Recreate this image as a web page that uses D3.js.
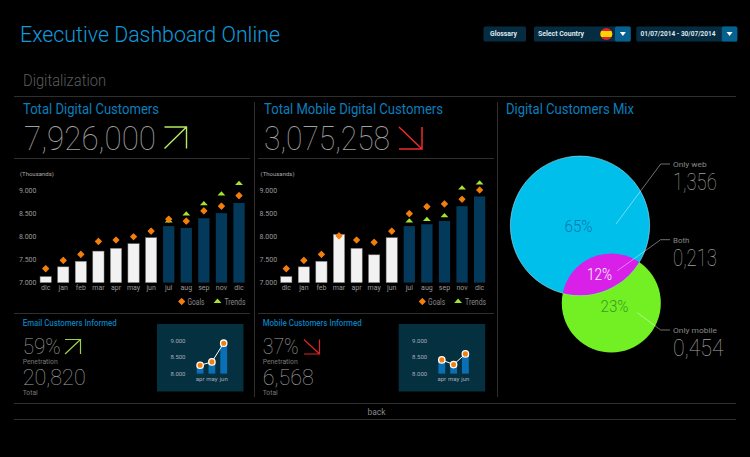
<!DOCTYPE html>
<html>
  <head>
    <meta charset="utf-8" />
    <script src="https://d3js.org/d3.v7.min.js"></script>
    <style>
html, body {
  margin: 0;
  background: #000;
}
svg {
  display: block;
}
svg text {
  font-family: Roboto, "Open Sans", sans-serif;
}
    </style>
  </head>
  <body>
<div id="content"></div>
    <script>
"use strict";

const MONTHS = ["dic", "jan", "feb", "mar", "apr", "may", "jun", "jul", "aug", "sep", "nov", "dic"];
const TICKS = [7000, 7500, 8000, 8500, 9000];

const DIGITAL_BARS = [7130, 7340, 7460, 7680, 7740, 7840, 7970, 8220, 8180, 8390, 8500, 8720];
const DIGITAL_GOALS = [7300, 7480, 7610, 7890, 7920, 7990, 8110, 8370, 8330, 8550, 8650, 8880];
const DIGITAL_TRENDS = [null, null, null, null, null, null, null, 8330, 8480, 8700, 8910, 9140];

const MOBILE_BARS = [7130, 7340, 7460, 8040, 7740, 7600, 7970, 8220, 8260, 8330, 8650, 8860];
const MOBILE_GOALS = [7300, 7480, 7610, 8010, 7920, 7870, 8110, 8490, 8640, 8700, 8800, 9000];
const MOBILE_TRENDS = [null, null, null, null, null, null, null, 8330, 8360, 8440, 9040, 9150];

const MINI_MONTHS = ["apr", "may", "jun"];
const MINI_TICKS = [8000, 8500, 9000];
const EMAIL_MINI = [8250, 8350, 8910];
const MOBILE_MINI = [8410, 8270, 8590];

const VENN_SIZES = [77, 39];
const VENN_PERCENTS = ["65%", "12%", "23%"];
const VENN_NAMES = ["Only web", "Both", "Only mobile"];
const VENN_VALUES = ["1,356", "0,213", "0,454"];

const BLUE = "#0a7fbd";
const GOAL = "#f57f0c";
const TREND = "#a6e22e";
const THIN = "#a0a0a0";

const dotFormat = d3.formatLocale({ decimal: ",", thousands: ".", grouping: [3], currency: ["", ""] }).format(",");

const svg = d3.select("#content").append("svg").attr("width", 750).attr("height", 457);
svg.append("rect").attr("width", 750).attr("height", 457).attr("fill", "#000");

// fit: the width the text takes in the reference, squeezes the glyphs to it
function label(x, y, str, size, color, weight, fit) {
	const t = svg.append("text")
		.attr("x", x).attr("y", y)
		.attr("font-size", size)
		.attr("fill", color)
		.attr("font-weight", weight || 400)
		.text(str);
	if (fit) {
		t.attr("textLength", fit).attr("lengthAdjust", "spacingAndGlyphs");
	}
	return t;
}

function rule(x1, y1, x2, y2) {
	svg.append("line").attr("x1", x1).attr("y1", y1).attr("x2", x2).attr("y2", y2)
		.attr("stroke", "#2e2e2e").attr("stroke-width", 1);
}

// arrow with the square corner at (cx, cy), dx/dy point back along the two arms
function arrow(cx, cy, dx, dy, color, w) {
	const p = d3.path();
	p.moveTo(cx + dx, cy);
	p.lineTo(cx, cy);
	p.lineTo(cx, cy + dy);
	p.moveTo(cx, cy);
	p.lineTo(cx + dx, cy + dy);
	svg.append("path").attr("d", p.toString()).attr("fill", "none")
		.attr("stroke", color).attr("stroke-width", w);
}

function button(x, w, str, textX, fit, arrowW) {
	svg.append("rect").attr("x", x).attr("y", 26.5).attr("width", w).attr("height", 15).attr("rx", 1.5).attr("fill", "#062c42");
	if (arrowW) {
		svg.append("rect").attr("x", x + w - arrowW).attr("y", 26.5).attr("width", arrowW).attr("height", 15).attr("rx", 1.5).attr("fill", "#05618f");
		const cx = x + w - arrowW / 2;
		svg.append("path").attr("d", d3.line()([[cx - 3, 32], [cx + 3, 32], [cx, 36]]) + "Z").attr("fill", "#fff");
	}
	label(textX, 36.3, str, 7, "#dfe6ea", 700, fit);
}

// the big bar chart, shift moves it into its panel
function barChart(shift, bars, goals, trends) {
	const g = svg.append("g").attr("transform", `translate(${shift},0)`);
	const x = d3.scaleBand().domain(d3.range(MONTHS.length)).range([36.9, 247.8]).paddingInner(0.36).paddingOuter(0.18);
	const y = d3.scaleLinear().domain([7000, 9000]).range([282.6, 190]);
	const cx = i => x(i) + x.bandwidth() / 2;

	g.append("text").attr("x", 20).attr("y", 175.5).attr("font-size", 6).attr("fill", "#aaa").text("(Thousands)");

	const yAxis = g.append("g").attr("transform", "translate(36.5,0)")
		.call(d3.axisLeft(y).tickValues(TICKS).tickSize(0).tickPadding(0).tickFormat(dotFormat));
	yAxis.select(".domain").remove();
	yAxis.selectAll("text").attr("font-size", 7).attr("fill", "#999");

	const xAxis = g.append("g").attr("transform", "translate(0,284)")
		.call(d3.axisBottom(x).tickSize(0).tickPadding(1.5).tickFormat(i => MONTHS[i]));
	xAxis.select(".domain").remove();
	xAxis.selectAll("text").attr("font-size", 7).attr("fill", "#999");

	g.selectAll(".bar").data(bars).enter().append("rect")
		.attr("class", "bar")
		.attr("x", (d, i) => x(i))
		.attr("y", d => y(d))
		.attr("width", x.bandwidth())
		.attr("height", d => y(7000) - y(d))
		.attr("fill", (d, i) => i < 7 ? "#f2f2f2" : "#033a5c")
		.attr("stroke", (d, i) => i < 7 ? "#777" : "none")
		.attr("stroke-width", 0.5);

	const tri = d3.symbol().type(d3.symbolTriangle).size(22);
	const trendPts = trends.map((v, i) => ({ v: v, i: i })).filter(d => d.v !== null);
	g.selectAll(".trend").data(trendPts).enter().append("path")
		.attr("class", "trend")
		.attr("d", tri)
		.attr("transform", d => `translate(${cx(d.i)},${y(d.v)}) scale(1.1,0.7)`)
		.attr("fill", TREND);

	const diamond = d3.symbol().type(d3.symbolSquare).size(18);
	g.selectAll(".goal").data(goals).enter().append("path")
		.attr("class", "goal")
		.attr("d", diamond)
		.attr("transform", (d, i) => `translate(${cx(i)},${y(d)}) rotate(45)`)
		.attr("fill", GOAL).attr("stroke", GOAL).attr("stroke-width", 1).attr("stroke-linejoin", "round");

	g.append("path").attr("d", diamond).attr("transform", "translate(181.7,301.5) rotate(45)")
		.attr("fill", GOAL).attr("stroke", GOAL).attr("stroke-width", 1).attr("stroke-linejoin", "round");
	g.append("text").attr("x", 187.5).attr("y", 304.5).attr("font-size", 8.5).attr("fill", "#888")
		.attr("textLength", 17).attr("lengthAdjust", "spacingAndGlyphs").text("Goals");
	g.append("path").attr("d", tri).attr("transform", "translate(217.5,301.5) scale(1.1,0.7)").attr("fill", TREND);
	g.append("text").attr("x", 224.5).attr("y", 304.5).attr("font-size", 8.5).attr("fill", "#888")
		.attr("textLength", 21).attr("lengthAdjust", "spacingAndGlyphs").text("Trends");
}

function miniChart(left, values) {
	const g = svg.append("g").attr("transform", `translate(${left},0)`);
	g.append("rect").attr("x", 0).attr("y", 324).attr("width", 86.5).attr("height", 67.5).attr("fill", "#04303f");

	const x = d3.scaleBand().domain(MINI_MONTHS).range([37.2, 72.6]).paddingInner(0.42).paddingOuter(0.21);
	const y = d3.scaleLinear().domain([8000, 9000]).range([373.6, 340.2]);

	const yAxis = g.append("g").attr("transform", "translate(28.5,0)")
		.call(d3.axisLeft(y).tickValues(MINI_TICKS).tickSize(0).tickPadding(0).tickFormat(dotFormat));
	yAxis.select(".domain").remove();
	yAxis.selectAll("text").attr("font-size", 6).attr("fill", "#aab");

	const xAxis = g.append("g").attr("transform", "translate(0,375.5)")
		.call(d3.axisBottom(x).tickSize(0).tickPadding(1.5));
	xAxis.select(".domain").remove();
	xAxis.selectAll("text").attr("font-size", 6).attr("fill", "#aab");

	const px = (d, i) => x(MINI_MONTHS[i]) + x.bandwidth() / 2;

	g.selectAll(".mbar").data(values).enter().append("rect")
		.attr("class", "mbar")
		.attr("x", (d, i) => x(MINI_MONTHS[i]))
		.attr("y", d => y(d))
		.attr("width", x.bandwidth())
		.attr("height", d => y(8000) - y(d))
		.attr("fill", "#0a6fb5");

	g.append("path")
		.attr("d", d3.line().x(px).y(d => y(d))(values))
		.attr("fill", "none").attr("stroke", "#fff").attr("stroke-width", 1);

	g.selectAll(".mdot").data(values).enter().append("circle")
		.attr("class", "mdot")
		.attr("cx", px)
		.attr("cy", d => y(d))
		.attr("r", 3.2)
		.attr("fill", GOAL)
		.attr("stroke", "#fff")
		.attr("stroke-width", 1.3);
}

function venn() {
	const r = d3.scaleSqrt().domain([0, VENN_SIZES[0]]).range([0, 69.6]);
	const web = { x: 580, y: 225.7, r: r(VENN_SIZES[0]) };
	const mob = { x: 611.3, y: 303, r: r(VENN_SIZES[1]) };

	svg.append("clipPath").attr("id", "webClip").append("circle").attr("cx", web.x).attr("cy", web.y).attr("r", web.r);

	svg.append("circle").attr("cx", mob.x).attr("cy", mob.y).attr("r", mob.r).attr("fill", "#72f023");
	svg.append("circle").attr("cx", web.x).attr("cy", web.y).attr("r", web.r).attr("fill", "#00bfeb")
		.attr("stroke", "#9fe6f7").attr("stroke-width", 0.6);
	svg.append("circle").attr("cx", mob.x).attr("cy", mob.y).attr("r", mob.r).attr("fill", "#d820e8").attr("clip-path", "url(#webClip)");

	label(564.5, 232, VENN_PERCENTS[0], 17, "#0a78b0", 300, 28);
	label(587, 280, VENN_PERCENTS[1], 17, "#fff", 300, 25);
	label(600.5, 312, VENN_PERCENTS[2], 17, "#3f9a1f", 300, 28);

	const leaders = [
		[[616, 224], [660.7, 164], [670, 164]],
		[[617.3, 270.7], [660.7, 239.7], [670, 239.7]],
		[[637.3, 312.7], [660.7, 330], [670, 330]]
	];
	const nameY = [166.5, 242.5, 332.5];
	const nameW = [33.7, 16.3, 44];
	const valueY = [190, 266, 356];
	const valueW = [43.7, 44, 50.7];
	leaders.forEach((pts, i) => {
		svg.append("path").attr("d", d3.line()(pts)).attr("fill", "none")
			.attr("stroke", "#ffffff").attr("stroke-opacity", 0.55).attr("stroke-width", 0.8);
		label(673, nameY[i], VENN_NAMES[i], 8, "#888", 400, nameW[i]);
		label(673, valueY[i], VENN_VALUES[i], 23, THIN, 100, valueW[i]);
	});
}

// header
label(20, 42, "Executive Dashboard Online", 22.5, "#0f9bdc", 300, 260);
button(483.5, 42.5, "Glossary", 490, 27);
button(534, 96.7, "Select Country", 538, 46, 15.7);
button(636.3, 101, "01/07/2014 - 30/07/2014", 640.5, 75, 15.5);

svg.append("clipPath").attr("id", "flagClip").append("circle").attr("cx", 606.3).attr("cy", 34).attr("r", 6);
const flag = svg.append("g").attr("clip-path", "url(#flagClip)");
flag.append("rect").attr("x", 600).attr("y", 28).attr("width", 13).attr("height", 12).attr("fill", "#e4202c");
flag.append("rect").attr("x", 600).attr("y", 31).attr("width", 13).attr("height", 6).attr("fill", "#ffd500");

label(23, 86, "Digitalization", 16, "#5c5c5c", 300, 83);

// frame lines
rule(14, 96.5, 736, 96.5);
rule(254.5, 102, 254.5, 397);
rule(497.5, 102, 497.5, 397);
rule(14, 158.5, 250, 158.5);
rule(258, 158.5, 494, 158.5);
rule(14, 313.5, 250, 313.5);
rule(258, 313.5, 494, 313.5);
rule(14, 403.5, 736, 403.5);
rule(14, 419.5, 736, 419.5);

// panels
label(23, 114, "Total Digital Customers", 14, BLUE, 400, 136);
label(264, 114, "Total Mobile Digital Customers", 14, BLUE, 400, 179);
label(506, 114, "Digital Customers Mix", 14, BLUE, 400, 128);

label(24, 149.5, "7,926,000", 34, THIN, 100, 132);
label(264, 149.5, "3,075,258", 34, THIN, 100, 126);
arrow(186.5, 127, -22, 21.5, "#b4ec5e", 1.4);
arrow(422, 149, -23, -22, "#f02a2e", 1.5);

barChart(0, DIGITAL_BARS, DIGITAL_GOALS, DIGITAL_TRENDS);
barChart(240.6, MOBILE_BARS, MOBILE_GOALS, MOBILE_TRENDS);

label(22.7, 326, "Email Customers Informed", 8.5, BLUE, 500, 94);
label(22.7, 354, "59%", 22.5, THIN, 100, 38);
arrow(80.5, 339.5, -15.5, 14.5, "#9ad050", 1.2);
label(22.7, 364, "Penetration", 7, "#777", 400, 35);
label(22.7, 385, "20,820", 22, THIN, 100, 63);
label(22.7, 394.5, "Total", 7, "#777", 400, 15);

label(262.7, 326, "Mobile Customers Informed", 8.5, BLUE, 500, 99);
label(262.7, 354, "37%", 22.5, THIN, 100, 36);
arrow(319.5, 354, -15.5, -14.5, "#e0242a", 1.2);
label(262.7, 364, "Penetration", 7, "#777", 400, 35);
label(262.7, 385, "6,568", 22, THIN, 100, 51);
label(262.7, 394.5, "Total", 7, "#777", 400, 15);

miniChart(157, EMAIL_MINI);
miniChart(398.7, MOBILE_MINI);
venn();

label(367.5, 414.5, "back", 9.5, "#888", 400, 18);
    </script>
  </body>
</html>
